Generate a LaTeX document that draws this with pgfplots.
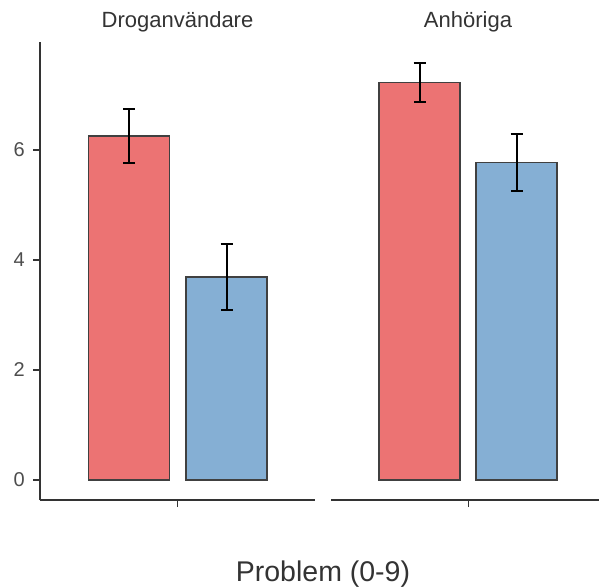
\documentclass[border=0pt]{standalone}
\usepackage{pgfplots}
\pgfplotsset{compat=1.18}
\usepackage{fontspec}
\setmainfont{Liberation Sans}
\definecolor{redbar}{HTML}{EC7373}
\definecolor{bluebar}{HTML}{85AFD4}
\definecolor{edge}{HTML}{404040}
\definecolor{axisgray}{HTML}{333333}
\definecolor{ticktext}{HTML}{4D4D4D}
\definecolor{striptext}{HTML}{333333}
\begin{document}
\begin{tikzpicture}
\useasboundingbox (0pt,0pt) rectangle (599pt,587pt);
\pgfplotsset{
 panel/.style={
  scale only axis, height=458pt,
  ymin=-0.364, ymax=7.96,
  xmin=0,
  axis x line*=bottom,
  x axis line style={draw=axisgray, line width=1.5pt, -},
  y axis line style={draw=axisgray, line width=1.5pt, -},
  xtick={137.5}, xticklabels={},
  ytick={0,2,4,6},
  tick align=outside, major tick length=7pt,
  tick style={draw=axisgray, line width=1.5pt},
  /pgf/number format/assume math mode=true,
  yticklabel style={font=\fontsize{20}{20}\selectfont, text=ticktext, inner sep=0pt, anchor=east, xshift=-8pt},
  clip=false,
 },
 barstyle/.style={ybar, bar width=81, bar shift=0pt, draw=edge, line width=1.5pt, fill=#1,
  error bars/.cd, y dir=both, y explicit,
  error bar style={black, line width=2pt},
  error mark options={rotate=90, black, line width=2pt, mark size=6pt}},
}
\begin{axis}[panel, width=275pt, xmax=275, axis y line*=left, at={(40pt,87pt)}, anchor=south west]
\addplot[barstyle=redbar] coordinates {(89,6.25) +- (0,0.495)};
\addplot[barstyle=bluebar] coordinates {(186.5,3.69) +- (0,0.60)};
\end{axis}
\begin{axis}[panel, width=268pt, xmax=268, hide y axis, at={(331pt,87pt)}, anchor=south west]
\addplot[barstyle=redbar] coordinates {(88.5,7.22) +- (0,0.355)};
\addplot[barstyle=bluebar] coordinates {(185.5,5.77) +- (0,0.51)};
\end{axis}
\node[anchor=base, text=striptext, font=\fontsize{22}{22}\selectfont] at (177.5pt,559pt) {Droganvändare};
\node[anchor=base, text=striptext, font=\fontsize{22}{22}\selectfont] at (468pt,559pt) {Anhöriga};
\node[anchor=base, text=axisgray, font=\fontsize{28.5}{28.5}\selectfont] at (323pt,6pt) {Problem (0-9)};
\end{tikzpicture}
\end{document}
